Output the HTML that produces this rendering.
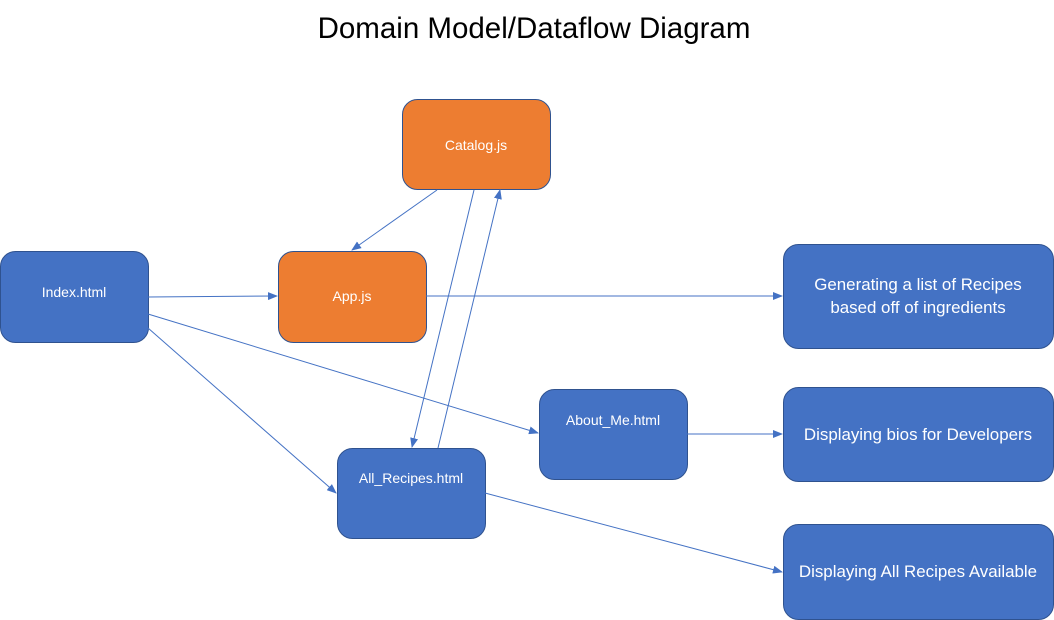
<!DOCTYPE html>
<html><head><meta charset="utf-8"><style>
html,body{margin:0;padding:0;background:#fff;}
svg{display:block;}
text{font-family:"Liberation Sans",sans-serif;}
</style></head><body>
<svg width="1054" height="620" viewBox="0 0 1054 620" xmlns="http://www.w3.org/2000/svg">
<defs>
<marker id="a" markerWidth="10" markerHeight="8" refX="9" refY="4" orient="auto" markerUnits="userSpaceOnUse">
<path d="M0,0 L10,4 L0,8 z" fill="#4472C4"/>
</marker>
</defs>
<text x="534" y="38" font-size="29.5" text-anchor="middle" fill="#000">Domain Model/Dataflow Diagram</text>
<g stroke="#2F528F" stroke-width="1">
<rect x="402.5" y="99.5" width="148" height="90" rx="15" fill="#ED7D31"/>
<rect x="278.5" y="251.5" width="148" height="91" rx="15" fill="#ED7D31"/>
<rect x="0.5" y="251.5" width="148" height="91" rx="15" fill="#4472C4"/>
<rect x="783.5" y="244.5" width="270" height="104" rx="15" fill="#4472C4"/>
<rect x="539.5" y="389.5" width="148" height="90" rx="15" fill="#4472C4"/>
<rect x="783.5" y="387.5" width="270" height="94" rx="15" fill="#4472C4"/>
<rect x="337.5" y="448.5" width="148" height="90" rx="15" fill="#4472C4"/>
<rect x="783.5" y="524.5" width="270" height="95" rx="15" fill="#4472C4"/>
</g>
<g stroke="#4472C4" stroke-width="1" fill="none" marker-end="url(#a)">
<line x1="437" y1="190" x2="352" y2="250"/>
<line x1="148" y1="297" x2="277" y2="296"/>
<line x1="426" y1="296" x2="782" y2="296"/>
<line x1="148" y1="314" x2="538" y2="433"/>
<line x1="148" y1="328" x2="336" y2="493"/>
<line x1="474" y1="190" x2="412" y2="447"/>
<line x1="438" y1="448" x2="500" y2="190"/>
<line x1="687" y1="434" x2="782" y2="434"/>
<line x1="485" y1="493" x2="782" y2="572"/>
</g>
<g fill="#fff" font-size="14" text-anchor="middle">
<text x="476" y="150">Catalog.js</text>
<text x="352" y="301">App.js</text>
<text x="74" y="297">Index.html</text>
<text x="613" y="425">About_Me.html</text>
<text x="411" y="483">All_Recipes.html</text>
</g>
<g fill="#fff" font-size="16.9" text-anchor="middle">
<text x="918" y="290">Generating a list of Recipes</text>
<text x="918" y="313">based off of ingredients</text>
<text x="918" y="440">Displaying bios for Developers</text>
<text x="918" y="577">Displaying All Recipes Available</text>
</g>
</svg>
</body></html>
